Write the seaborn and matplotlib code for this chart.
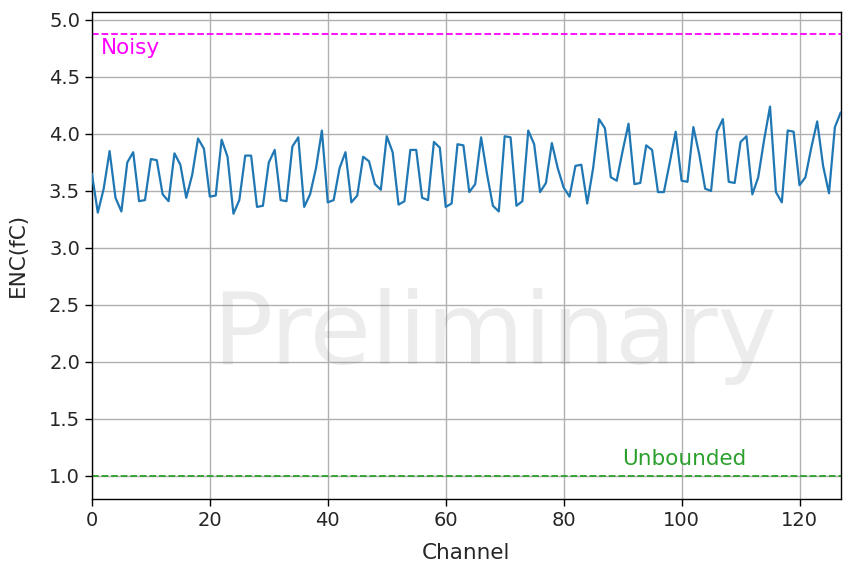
import numpy as np
import pandas as pd
import matplotlib
matplotlib.use("Agg")
import matplotlib.pyplot as plt
import seaborn as sns

# Equivalent noise charge per channel
channels = list(range(128))
enc_fc = [
    3.65, 3.31, 3.52, 3.85, 3.44, 3.32, 3.75, 3.84, 3.41, 3.42,
    3.78, 3.77, 3.47, 3.41, 3.83, 3.73, 3.44, 3.64, 3.96, 3.87,
    3.45, 3.46, 3.95, 3.80, 3.30, 3.42, 3.81, 3.81, 3.36, 3.37,
    3.75, 3.86, 3.42, 3.41, 3.89, 3.97, 3.36, 3.47, 3.70, 4.03,
    3.40, 3.42, 3.70, 3.84, 3.40, 3.46, 3.80, 3.76, 3.56, 3.51,
    3.98, 3.84, 3.38, 3.41, 3.86, 3.86, 3.44, 3.42, 3.93, 3.88,
    3.36, 3.39, 3.91, 3.90, 3.49, 3.56, 3.97, 3.65, 3.37, 3.32,
    3.98, 3.97, 3.37, 3.41, 4.03, 3.91, 3.49, 3.57, 3.92, 3.70,
    3.53, 3.45, 3.72, 3.73, 3.39, 3.70, 4.13, 4.05, 3.62, 3.59,
    3.85, 4.09, 3.56, 3.57, 3.90, 3.86, 3.49, 3.49, 3.75, 4.02,
    3.59, 3.58, 4.06, 3.82, 3.52, 3.50, 4.02, 4.13, 3.58, 3.57,
    3.93, 3.98, 3.47, 3.62, 3.95, 4.24, 3.49, 3.40, 4.03, 4.02,
    3.55, 3.62, 3.88, 4.11, 3.72, 3.48, 4.06, 4.19,
]

# Threshold levels
noisy_level = 4.88
unbounded_level = 1.0

df = pd.DataFrame({"Channel": channels, "ENC(fC)": enc_fc})

sns.set_style("ticks")
plt.rcParams["font.family"] = ["DejaVu Sans"]

fig = plt.figure(figsize=(8.51, 5.70), dpi=100)
ax = fig.add_axes([0.108, 0.125, 0.880, 0.854])

sns.lineplot(data=df, x="Channel", y="ENC(fC)", ax=ax, color="#1f77b4",
             linewidth=1.6, zorder=3)

ax.axhline(noisy_level, color="#ff00ff", linestyle="--", linewidth=1.3, zorder=2)
ax.axhline(unbounded_level, color="#2ca02c", linestyle="--", linewidth=1.3, zorder=2)
ax.text(1.5, 4.70, "Noisy", color="#ff00ff", fontsize=15.5)
ax.text(90, 1.10, "Unbounded", color="#2ca02c", fontsize=15.5)

ax.text(68.2, 2.22, "Preliminary", color="gray", alpha=0.15, fontsize=72,
        ha="center", va="center", zorder=1)

ax.set_xlim(0, 127)
ax.set_ylim(0.8, 5.07)
ax.set_yticks(np.arange(1.0, 5.01, 0.5))
ax.set_xticks(np.arange(0, 121, 20))
ax.grid(True, color="#b0b0b0", linewidth=1.0)
ax.set_axisbelow(True)
ax.tick_params(labelsize=14, length=5, width=1, color="black", direction="out")
ax.set_xlabel("Channel", fontsize=15.5, labelpad=10)
ax.set_ylabel("ENC(fC)", fontsize=15.5, labelpad=15)
for s in ax.spines.values():
    s.set_color("black")
    s.set_linewidth(1.0)

fig.savefig("out.png", dpi=100)
